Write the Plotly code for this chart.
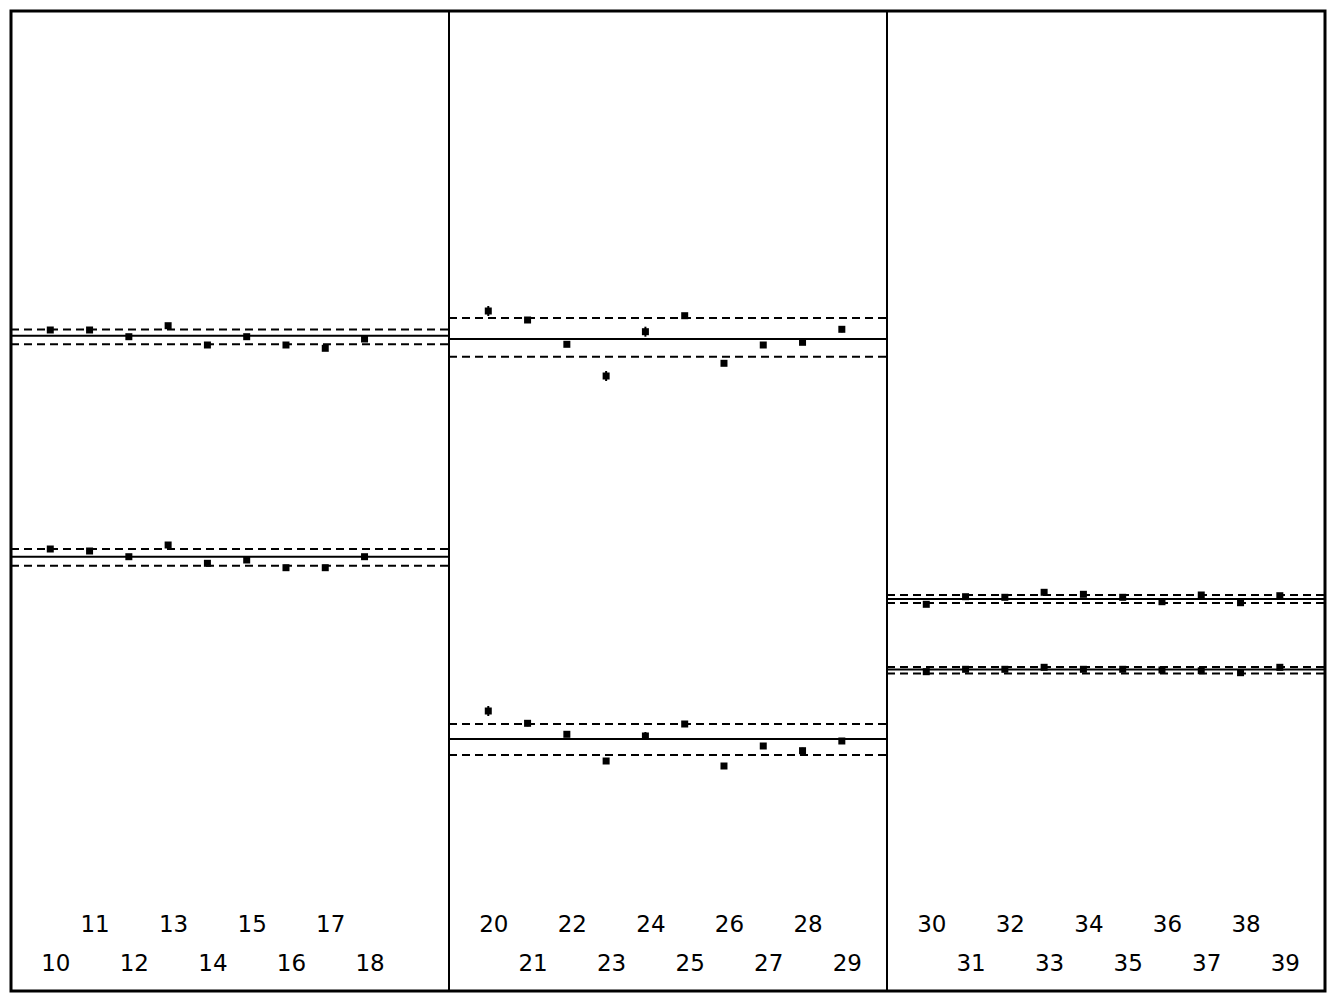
import plotly.graph_objects as go

# ---- data (arbitrary vertical units) ----
p1_ids = [10, 11, 12, 13, 14, 15, 16, 17, 18]
p2_ids = [20, 21, 22, 23, 24, 25, 26, 27, 28, 29]
p3_ids = [30, 31, 32, 33, 34, 35, 36, 37, 38, 39]

p1_upper = [661, 661, 654.3, 665.3, 646, 654.3, 646, 642.7, 652]
p1_lower = [442, 440, 434.3, 446, 427.7, 431, 423.3, 423.3, 434.3]
p2_upper = [680, 671, 646.7, 615, 659.3, 675.3, 627.7, 646, 648.7, 661.7]
p2_lower = [280, 267.7, 256.7, 230, 255, 267, 225, 245, 240.3, 250]
p3_upper = [386.7, 394.3, 393.7, 398.7, 396.7, 393.7, 389.3, 396, 388.3, 395.3]
p3_lower = [319.3, 321.7, 321.7, 323.7, 321.7, 321.7, 321, 320.3, 318.3, 323.7]

p2_upper_err = [5, 1, 1, 5, 5, 1, 1, 3, 1, 3]
p2_lower_err = [5, 3, 1, 2, 4, 3, 1, 3, 3, 3]

# reference lines: (upper dashed, centre solid, lower dashed)
p1_upper_lines = [661.5, 655.3, 646.7]
p1_lower_lines = [442, 434.3, 425.3]
p2_upper_lines = [673, 652, 634.3]
p2_lower_lines = [267, 252, 236]
p3_upper_lines = [396, 392, 388]
p3_lower_lines = [324, 321.5, 317.5]

label_top_y = 65
label_bottom_y = 26

# ---- figure ----
fig = go.Figure()
W, H = 1334, 1000
left, right, top, bottom = 11, 9, 11, 9
plot_w = W - left - right
panel_w = 438
domains = [[0, panel_w / plot_w], [panel_w / plot_w, 2 * panel_w / plot_w], [2 * panel_w / plot_w, 1]]

panels = [
    (p1_ids, [p1_upper, p1_lower], [None, None], [p1_upper_lines, p1_lower_lines]),
    (p2_ids, [p2_upper, p2_lower], [p2_upper_err, p2_lower_err], [p2_upper_lines, p2_lower_lines]),
    (p3_ids, [p3_upper, p3_lower], [None, None], [p3_upper_lines, p3_lower_lines]),
]

shapes = []
for k, (ids, series, errs, lines) in enumerate(panels):
    xa = "x" if k == 0 else f"x{k+1}"
    ya = "y" if k == 0 else f"y{k+1}"
    pos = list(range(1, len(ids) + 1))
    for vals, err in zip(series, errs):
        tr = dict(
            x=pos, y=vals, mode="markers", xaxis=xa, yaxis=ya,
            marker=dict(symbol="square", size=7, color="black"),
            showlegend=False, hoverinfo="skip",
        )
        if err is not None:
            tr["error_y"] = dict(type="data", array=err, visible=True,
                                 color="black", thickness=2, width=0)
        fig.add_trace(go.Scatter(**tr))
    for trio in lines:
        for j, yv in enumerate(trio):
            shapes.append(dict(
                type="line", xref=f"{xa} domain", yref=ya,
                x0=0, x1=1, y0=yv, y1=yv,
                line=dict(color="black", width=2,
                          dash="solid" if j == 1 else "8px,5px"),
            ))
    # labels: alternate between an upper and a lower row
    top_x = [p + 0.14 for i, p in enumerate(pos) if (ids[i] % 2 == 1) == (k == 0)]
    top_t = [str(ids[i]) for i in range(len(ids)) if (ids[i] % 2 == 1) == (k == 0)]
    bot_x = [p + 0.14 for i, p in enumerate(pos) if (ids[i] % 2 == 1) != (k == 0)]
    bot_t = [str(ids[i]) for i in range(len(ids)) if (ids[i] % 2 == 1) != (k == 0)]
    for xs, ts, yv in [(top_x, top_t, label_top_y), (bot_x, bot_t, label_bottom_y)]:
        fig.add_trace(go.Scatter(
            x=xs, y=[yv] * len(xs), text=ts, mode="text", xaxis=xa, yaxis=ya,
            textfont=dict(family="DejaVu Sans", size=23, color="black"),
            showlegend=False, hoverinfo="skip",
        ))

shapes.append(dict(type="rect", xref="paper", yref="paper", x0=0, x1=1, y0=0, y1=1,
                   line=dict(color="black", width=3)))

axis_common = dict(range=[0, 11.15], showgrid=False, zeroline=False, showticklabels=False,
                   ticks="", showline=True, mirror=True, linecolor="black", linewidth=1)
yaxis_common = dict(range=[0, 980], showgrid=False, zeroline=False, showticklabels=False,
                    ticks="", showline=True, mirror=True, linecolor="black", linewidth=1)

layout = dict(
    width=W, height=H,
    margin=dict(l=left, r=right, t=top, b=bottom),
    plot_bgcolor="white", paper_bgcolor="white",
    shapes=shapes,
)
for k in range(3):
    sfx = "" if k == 0 else str(k + 1)
    layout[f"xaxis{sfx}"] = dict(axis_common, domain=domains[k], anchor=f"y{sfx}")
    layout[f"yaxis{sfx}"] = dict(yaxis_common, domain=[0, 1], anchor=f"x{sfx}")

fig.update_layout(**layout)
fig.write_html("out.html")
